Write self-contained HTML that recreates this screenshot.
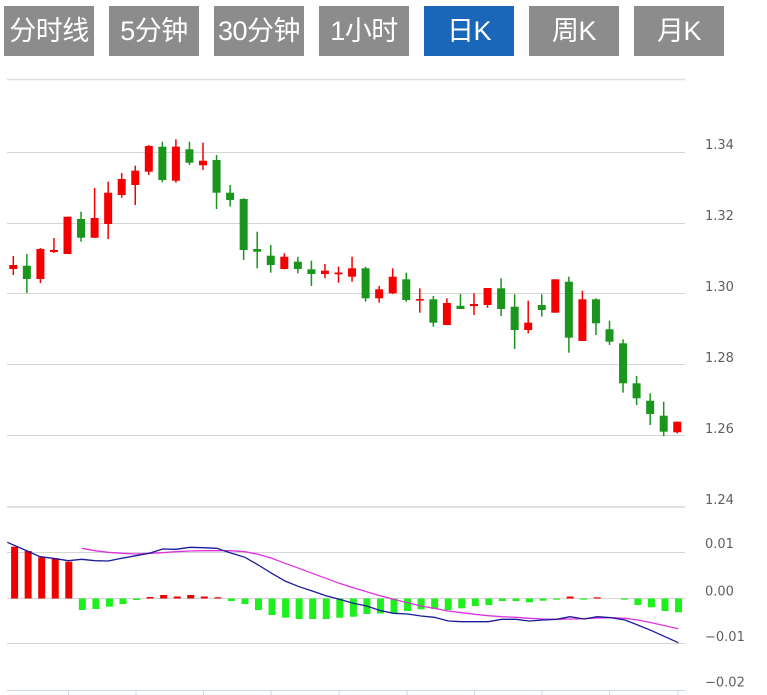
<!DOCTYPE html>
<html><head><meta charset="utf-8"><style>
html,body{margin:0;padding:0;background:#fff;}
body{width:767px;height:695px;position:relative;overflow:hidden;}
.b{position:absolute;top:6px;width:90px;height:50px;background:#8c8c8c;color:#fff;font-family:"Liberation Sans","Noto Sans CJK SC",sans-serif;font-size:27px;line-height:50px;text-align:center;white-space:nowrap;letter-spacing:-0.5px;}
.b.on{background:#1a66b8;}
svg{position:absolute;left:0;top:0;}
</style></head><body>
<div class="b" style="left:4px">分时线</div>
<div class="b" style="left:109px">5分钟</div>
<div class="b" style="left:214px">30分钟</div>
<div class="b" style="left:319px">1小时</div>
<div class="b on" style="left:424px">日K</div>
<div class="b" style="left:529px">周K</div>
<div class="b" style="left:634px">月K</div>
<svg width="767" height="695" viewBox="0 0 767 695" xmlns="http://www.w3.org/2000/svg">
<g stroke="#d6d6d6" stroke-width="1">
<line x1="7" y1="79.5" x2="685" y2="79.5" stroke-width="1.6" stroke="#e0e0e0"/>
<line x1="7" y1="152.5" x2="685" y2="152.5"/>
<line x1="7" y1="223.5" x2="685" y2="223.5"/>
<line x1="7" y1="293.5" x2="685" y2="293.5"/>
<line x1="7" y1="364.5" x2="685" y2="364.5"/>
<line x1="7" y1="435.5" x2="685" y2="435.5"/>
<line x1="7" y1="507" x2="685" y2="507" stroke-width="2" stroke="#e0e0e0"/>
<line x1="7" y1="552.5" x2="685" y2="552.5"/>
<line x1="7" y1="598.5" x2="685" y2="598.5"/>
<line x1="7" y1="643.5" x2="685" y2="643.5"/>
</g>
<g stroke="#ccd6eb" stroke-width="1">
<line x1="7" y1="690.5" x2="685" y2="690.5"/>
<line x1="68.5" y1="690" x2="68.5" y2="695"/>
<line x1="136" y1="690" x2="136" y2="695"/>
<line x1="203.5" y1="690" x2="203.5" y2="695"/>
<line x1="271" y1="690" x2="271" y2="695"/>
<line x1="339" y1="690" x2="339" y2="695"/>
<line x1="407" y1="690" x2="407" y2="695"/>
<line x1="474.5" y1="690" x2="474.5" y2="695"/>
<line x1="542" y1="690" x2="542" y2="695"/>
<line x1="609.5" y1="690" x2="609.5" y2="695"/>
<line x1="678" y1="690" x2="678" y2="695"/>
</g>
<g font-family="'DejaVu Sans','Liberation Sans',sans-serif" font-size="13" fill="#606060">
<text x="705" y="149">1.34</text>
<text x="705" y="220">1.32</text>
<text x="705" y="291">1.30</text>
<text x="705" y="362">1.28</text>
<text x="705" y="433">1.26</text>
<text x="705" y="504">1.24</text>
<text x="705" y="548">0.01</text>
<text x="705" y="595.5">0.00</text>
<text x="705" y="641">−0.01</text>
<text x="705" y="686.5">−0.02</text>
</g>
<!-- candles: red -->
<g fill="#f50000">
<rect x="12.55" y="256" width="1.5" height="19"/><rect x="9.3" y="265" width="8" height="4"/>
<rect x="39.65" y="248" width="1.5" height="35"/><rect x="36.4" y="249" width="8" height="30"/>
<rect x="53.2" y="238" width="1.5" height="15"/><rect x="49.95" y="250" width="8" height="2"/>
<rect x="66.75" y="216.7" width="1.5" height="37.3"/><rect x="63.5" y="216.7" width="8" height="37.3"/>
<rect x="93.85" y="188" width="1.5" height="50"/><rect x="90.6" y="218" width="8" height="19.7"/>
<rect x="107.4" y="181.7" width="1.5" height="57.3"/><rect x="104.15" y="192.7" width="8" height="31.3"/>
<rect x="120.95" y="173" width="1.5" height="24.7"/><rect x="117.7" y="179" width="8" height="16"/>
<rect x="134.5" y="165.7" width="1.5" height="39.3"/><rect x="131.25" y="170.7" width="8" height="14.3"/>
<rect x="148.05" y="145" width="1.5" height="30"/><rect x="144.8" y="146" width="8" height="25.7"/>
<rect x="175.15" y="139.3" width="1.5" height="43.4"/><rect x="171.9" y="146.7" width="8" height="34"/>
<rect x="202.25" y="142.7" width="1.5" height="27.3"/><rect x="199" y="160.7" width="8" height="4.6"/>
<rect x="283.55" y="253.3" width="1.5" height="16"/><rect x="280.3" y="256.7" width="8" height="12.3"/>
<rect x="324.2" y="264" width="1.5" height="14.3"/><rect x="320.95" y="270.7" width="8" height="3.3"/>
<rect x="337.75" y="266.7" width="1.5" height="16"/><rect x="334.5" y="272.5" width="8" height="1.8"/>
<rect x="351.3" y="256.7" width="1.5" height="25"/><rect x="348.05" y="268.3" width="8" height="8.4"/>
<rect x="378.4" y="286" width="1.5" height="16.7"/><rect x="375.15" y="289.3" width="8" height="9"/>
<rect x="391.95" y="268.3" width="1.5" height="25.7"/><rect x="388.7" y="276.7" width="8" height="16.6"/>
<rect x="419.05" y="288.3" width="1.5" height="24.4"/><rect x="415.8" y="299" width="8" height="1.6"/>
<rect x="446.15" y="298.3" width="1.5" height="26.7"/><rect x="442.9" y="303" width="8" height="22"/>
<rect x="473.25" y="293.3" width="1.5" height="21.7"/><rect x="470" y="304" width="8" height="2"/>
<rect x="486.8" y="288" width="1.5" height="19.7"/><rect x="483.55" y="288" width="8" height="17"/>
<rect x="527.45" y="300.7" width="1.5" height="32.6"/><rect x="524.2" y="322.7" width="8" height="7.3"/>
<rect x="554.55" y="279.3" width="1.5" height="33.4"/><rect x="551.3" y="279.3" width="8" height="33.4"/>
<rect x="581.65" y="290.7" width="1.5" height="50.3"/><rect x="578.4" y="299.3" width="8" height="41.7"/>
<rect x="676.5" y="421.7" width="1.5" height="11.6"/><rect x="673.25" y="421.7" width="8" height="10.6"/>
</g>
<!-- candles: green -->
<g fill="#1a961c">
<rect x="26.1" y="254" width="1.5" height="39"/><rect x="22.85" y="265.7" width="8" height="13.3"/>
<rect x="80.3" y="211.7" width="1.5" height="30"/><rect x="77.05" y="219" width="8" height="18.7"/>
<rect x="161.6" y="141.7" width="1.5" height="40.6"/><rect x="158.35" y="146.7" width="8" height="33.3"/>
<rect x="188.7" y="141.7" width="1.5" height="23.3"/><rect x="185.45" y="149.3" width="8" height="13.4"/>
<rect x="215.8" y="155" width="1.5" height="54"/><rect x="212.55" y="160" width="8" height="32.7"/>
<rect x="229.35" y="185" width="1.5" height="21.7"/><rect x="226.1" y="192.7" width="8" height="7.3"/>
<rect x="242.9" y="198.3" width="1.5" height="61.7"/><rect x="239.65" y="199" width="8" height="51"/>
<rect x="256.45" y="231.7" width="1.5" height="36.6"/><rect x="253.2" y="249" width="8" height="2.7"/>
<rect x="270" y="245" width="1.5" height="27.7"/><rect x="266.75" y="255.7" width="8" height="9.3"/>
<rect x="297.1" y="256.7" width="1.5" height="16.6"/><rect x="293.85" y="261.7" width="8" height="7.3"/>
<rect x="310.65" y="260.7" width="1.5" height="25.3"/><rect x="307.4" y="269.3" width="8" height="4.7"/>
<rect x="364.85" y="266.7" width="1.5" height="35"/><rect x="361.6" y="268.3" width="8" height="30"/>
<rect x="405.5" y="272.7" width="1.5" height="29"/><rect x="402.25" y="279.3" width="8" height="20.7"/>
<rect x="432.6" y="296" width="1.5" height="30.7"/><rect x="429.35" y="299.3" width="8" height="23.4"/>
<rect x="459.7" y="294" width="1.5" height="15"/><rect x="456.45" y="305.8" width="8" height="3.2"/>
<rect x="500.35" y="278.3" width="1.5" height="37.7"/><rect x="497.1" y="288.3" width="8" height="20.7"/>
<rect x="513.9" y="294.3" width="1.5" height="54.7"/><rect x="510.65" y="306.7" width="8" height="23.3"/>
<rect x="541" y="294.3" width="1.5" height="22.4"/><rect x="537.75" y="305" width="8" height="5"/>
<rect x="568.1" y="276.7" width="1.5" height="76"/><rect x="564.85" y="281.7" width="8" height="56"/>
<rect x="595.2" y="298.3" width="1.5" height="36.7"/><rect x="591.95" y="299.3" width="8" height="24"/>
<rect x="608.75" y="320.7" width="1.5" height="24.3"/><rect x="605.5" y="329.3" width="8" height="12.4"/>
<rect x="622.3" y="339.3" width="1.5" height="53.4"/><rect x="619.05" y="343.3" width="8" height="40"/>
<rect x="635.85" y="376" width="1.5" height="29"/><rect x="632.6" y="383.3" width="8" height="15"/>
<rect x="649.4" y="393.3" width="1.5" height="31.7"/><rect x="646.15" y="400.7" width="8" height="13.3"/>
<rect x="662.95" y="401.7" width="1.5" height="34.3"/><rect x="659.7" y="415.7" width="8" height="16"/>
</g>
<!-- MACD red bars -->
<g fill="#ee0000">
<rect x="11.1" y="546.7" width="7" height="51.8"/>
<rect x="24.65" y="551" width="7" height="47.5"/>
<rect x="38.2" y="557.3" width="7" height="41.2"/>
<rect x="51.75" y="558.3" width="7" height="40.2"/>
<rect x="65.3" y="561.7" width="7" height="36.8"/>
<rect x="146.6" y="597.0" width="7" height="1.5"/>
<rect x="160.15" y="595" width="7" height="3.5"/>
<rect x="173.7" y="596.5" width="7" height="2"/>
<rect x="187.25" y="595" width="7" height="3.5"/>
<rect x="200.8" y="596.5" width="7" height="2"/>
<rect x="214.35" y="597.3" width="7" height="1.2"/>
<rect x="566.65" y="596.5" width="7" height="2"/>
<rect x="593.75" y="597.3" width="7" height="1.2"/>
</g>
<!-- MACD green bars -->
<g fill="#1ef01e">
<rect x="78.85" y="598.5" width="7" height="11.5"/>
<rect x="92.4" y="598.5" width="7" height="10.5"/>
<rect x="105.95" y="598.5" width="7" height="8.2"/>
<rect x="119.5" y="598.5" width="7" height="5.5"/>
<rect x="133.05" y="598.5" width="7" height="1.5"/>
<rect x="227.9" y="598.5" width="7" height="2.5"/>
<rect x="241.45" y="598.5" width="7" height="5.5"/>
<rect x="255" y="598.5" width="7" height="11.5"/>
<rect x="268.55" y="598.5" width="7" height="16.5"/>
<rect x="282.1" y="598.5" width="7" height="19.2"/>
<rect x="295.65" y="598.5" width="7" height="20.5"/>
<rect x="309.2" y="598.5" width="7" height="20.5"/>
<rect x="322.75" y="598.5" width="7" height="20.5"/>
<rect x="336.3" y="598.5" width="7" height="19.2"/>
<rect x="349.85" y="598.5" width="7" height="18.2"/>
<rect x="363.4" y="598.5" width="7" height="15.5"/>
<rect x="376.95" y="598.5" width="7" height="15"/>
<rect x="390.5" y="598.5" width="7" height="14.8"/>
<rect x="404.05" y="598.5" width="7" height="12.5"/>
<rect x="417.6" y="598.5" width="7" height="10.8"/>
<rect x="431.15" y="598.5" width="7" height="10.5"/>
<rect x="444.7" y="598.5" width="7" height="11.5"/>
<rect x="458.25" y="598.5" width="7" height="9.8"/>
<rect x="471.8" y="598.5" width="7" height="7.5"/>
<rect x="485.35" y="598.5" width="7" height="6.5"/>
<rect x="498.9" y="598.5" width="7" height="2.5"/>
<rect x="512.45" y="598.5" width="7" height="2.5"/>
<rect x="526" y="598.5" width="7" height="3.8"/>
<rect x="539.55" y="598.5" width="7" height="2.2"/>
<rect x="553.1" y="598.5" width="7" height="1.2"/>
<rect x="580.2" y="598.5" width="7" height="1.2"/>
<rect x="620.85" y="598.5" width="7" height="1.2"/>
<rect x="634.4" y="598.5" width="7" height="6.5"/>
<rect x="647.95" y="598.5" width="7" height="8.8"/>
<rect x="661.5" y="598.5" width="7" height="12.5"/>
<rect x="675.05" y="598.5" width="7" height="13.8"/>
</g>
<!-- DEA -->
<polyline fill="none" stroke="#dd33dd" stroke-width="1.3" points="81.7,548.3 95,550.7 108.3,552.3 121.7,553.3 136,554 149.3,553.3 162.7,552.7 176,551.7 190,551 203.3,550.7 216.7,550.7 230,550.7 245,551.7 258.3,554.3 271.7,558.3 285,563.3 299,568.3 312.3,573.3 326,578.3 339.3,583.3 353.3,587.7 366.7,591.7 380,595.7 393.3,599.3 407.7,602.7 421,606 434.3,608.3 448.3,611 461.7,612.7 475,614.3 488.3,615.7 501.7,616.7 515.7,617.3 529.3,618.3 543.3,619 556.7,619.3 570,619 584,618.7 597.3,618 611,617.7 625,618.3 637.7,620 651.7,622.7 665,625.7 678.3,628.7"/>
<!-- DIF -->
<polyline fill="none" stroke="#1a1a9a" stroke-width="1.3" points="7.3,542.3 25,550 40,556.7 53.3,558.3 68.3,560.7 81.7,559.3 95,560.7 108.3,561 121.7,558.3 136,555.7 149.3,553.3 162.7,549 176,549.3 190,547.3 203.3,547.7 216.7,548.3 230,552.7 245,557.3 258.3,565 271.7,573.3 285,581 299,586.7 312.3,591 326,595.7 339.3,599.3 353.3,603.3 366.7,606 380,610.5 393.3,613.3 407.7,614 421,616 434.3,617.3 448.3,621 461.7,621.7 475,621.7 488.3,621.7 501.7,619.3 515.7,619.3 529.3,621 543.3,620 556.7,619.3 570,616.7 584,619 597.3,616.7 611,617.7 625,620 637.7,625 651.7,630.7 665,636.7 678.3,642.7"/>
</svg>
</body></html>
